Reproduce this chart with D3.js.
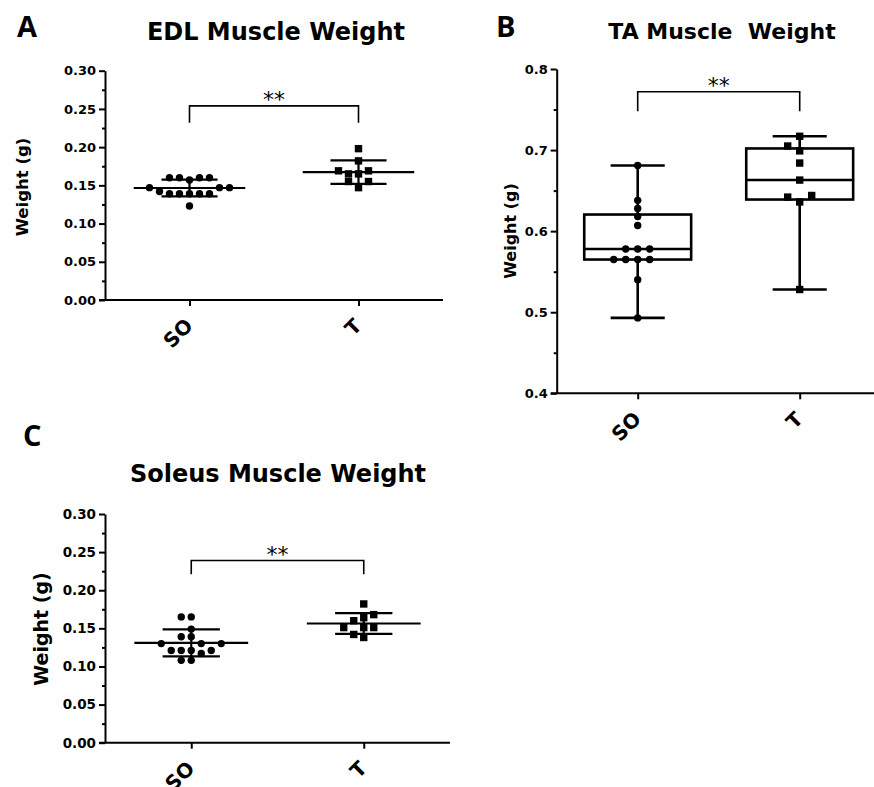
<!DOCTYPE html>
<html>
<head>
<script src="https://d3js.org/d3.v7.min.js"></script>
<style>
  body { margin: 0; background: #fff; }
  svg { display: block; font-family: "DejaVu Sans", sans-serif; }
  text { white-space: pre; }
</style>
</head>
<body>
<script>
// groups on the x axis
const groups = ["SO", "T"];

// EDL muscle weight (g)
const edlSO = [0.160, 0.160, 0.160, 0.160, 0.157, 0.147, 0.147, 0.147, 0.142, 0.139, 0.139, 0.139, 0.139, 0.139, 0.123];
const edlT = [0.198, 0.182, 0.169, 0.169, 0.165, 0.165, 0.155, 0.155, 0.147];

// TA muscle weight (g)
const taSO = [0.681, 0.638, 0.628, 0.618, 0.607, 0.578, 0.578, 0.578, 0.565, 0.565, 0.565, 0.565, 0.540, 0.493];
const taT = [0.717, 0.705, 0.699, 0.684, 0.663, 0.644, 0.642, 0.636, 0.528];

// Soleus muscle weight (g)
const solSO = [0.165, 0.165, 0.149, 0.139, 0.139, 0.130, 0.130, 0.130, 0.121, 0.121, 0.121, 0.121, 0.117, 0.108, 0.108];
const solT = [0.182, 0.168, 0.164, 0.160, 0.151, 0.151, 0.151, 0.142, 0.138];

// axis ticks
const smallTicks = [0, 0.05, 0.10, 0.15, 0.20, 0.25, 0.30];
const smallMinor = [0.025, 0.075, 0.125, 0.175, 0.225, 0.275];
const taTicks = [0.4, 0.5, 0.6, 0.7, 0.8];
const taMinor = [0.45, 0.55, 0.65, 0.75];

// significance brackets: [bar level, foot level]
const edlBracket = [0.254, 0.232];
const taBracket = [0.772, 0.748];
const solBracket = [0.239, 0.221];

const W = 874, H = 787;
const svg = d3.select("body").append("svg").attr("width", W).attr("height", H);

// place points so they don't overlap (rough beeswarm)
function swarm(values, y, step, size) {
  const placed = [];
  return values.slice().sort(d3.ascending).map(v => {
    const py = y(v);
    let off = 0;
    for (let i = 0; ; i++) {
      off = i === 0 ? 0 : (i % 2 ? -1 : 1) * Math.ceil(i / 2) * step;
      const hit = placed.some(p => Math.abs(p.py - py) < size && Math.abs(p.off - off) < step - 0.5);
      if (!hit) break;
    }
    placed.push({ py, off });
    return { v, py, off };
  });
}

// quartile like prism does it, (n+1)p
function quart(sorted, p) {
  const n = sorted.length, pos = (n + 1) * p, lo = Math.floor(pos), f = pos - lo;
  if (lo < 1) return sorted[0];
  if (lo >= n) return sorted[n - 1];
  return sorted[lo - 1] + f * (sorted[lo] - sorted[lo - 1]);
}

function panel(o) {
  const g = svg.append("g");
  const x = d3.scalePoint().domain(groups).range([o.x0, o.x1]).padding(0.5);
  const y = d3.scaleLinear().domain(o.domain).range([o.yBot, o.yTop]);
  const step = x.step();

  // letter + title
  g.append("text").attr("x", o.letter[0]).attr("y", o.letter[1])
    .attr("font-family", "'Open Sans', sans-serif").attr("font-weight", "bold")
    .attr("font-size", 29).text(o.tag);
  g.append("text").attr("x", o.title[0]).attr("y", o.title[1])
    .attr("text-anchor", "middle").attr("font-weight", "bold")
    .attr("font-size", o.titleSize).text(o.name);

  // y label
  g.append("text").attr("transform", `translate(${o.ylab[0]},${o.ylab[1]}) rotate(-90)`)
    .attr("text-anchor", "middle").attr("font-weight", "bold")
    .attr("font-size", o.ylabSize).text("Weight (g)");

  // y axis
  const ya = g.append("g").attr("transform", `translate(${o.x0},0)`)
    .call(d3.axisLeft(y).tickValues(o.ticks).tickFormat(d3.format(o.fmt)).tickSize(6).tickPadding(3).tickSizeOuter(0));
  ya.append("g").call(d3.axisLeft(y).tickValues(o.minor).tickFormat("").tickSize(3).tickSizeOuter(0))
    .select(".domain").remove();
  ya.selectAll("text").attr("font-family", "'DejaVu Sans', sans-serif")
    .attr("font-weight", "bold").attr("font-size", o.tickSize).attr("fill", "#000");
  ya.selectAll("path, line").attr("stroke", "#000").attr("stroke-width", 2);

  // x axis
  const xa = g.append("g").attr("transform", `translate(0,${o.yBot})`)
    .call(d3.axisBottom(x).tickSize(6).tickSizeOuter(0));
  xa.select(".domain").attr("d", `M${o.x0 - 6},0H${o.x1}`);
  xa.selectAll("path, line").attr("stroke", "#000").attr("stroke-width", 2);
  xa.selectAll("text").attr("y", 0).attr("dy", 0).attr("x", 0)
    .attr("transform", "translate(4,27) rotate(-45)")
    .attr("text-anchor", "end").attr("font-family", "'DejaVu Sans', sans-serif")
    .attr("font-weight", "bold").attr("font-size", 20).attr("fill", "#000");

  // bracket
  const bx0 = x(groups[0]), bx1 = x(groups[1]);
  g.append("path").attr("fill", "none").attr("stroke", "#000").attr("stroke-width", 1.6)
    .attr("d", `M${bx0},${y(o.bracket[1])}V${y(o.bracket[0])}H${bx1}V${y(o.bracket[1])}`);
  g.append("text").attr("x", (bx0 + bx1) / 2).attr("y", y(o.bracket[0]) + 1.5)
    .attr("text-anchor", "middle").attr("font-size", 22).text("**");

  o.series.forEach((vals, i) => {
    const cx = x(groups[i]);
    const pts = swarm(vals, y, o.swarmStep, 7.5);
    if (o.box) {
      const s = vals.slice().sort(d3.ascending);
      const q1 = quart(s, 0.25), med = quart(s, 0.5), q3 = quart(s, 0.75);
      const bw = step * 0.33, cw = step * 0.167;
      const bg = g.append("g").attr("stroke", "#000").attr("stroke-width", 2.6).attr("fill", "none");
      bg.append("line").attr("x1", cx).attr("x2", cx).attr("y1", y(s[0])).attr("y2", y(q1));
      bg.append("line").attr("x1", cx).attr("x2", cx).attr("y1", y(q3)).attr("y2", y(s[s.length - 1]));
      bg.append("line").attr("x1", cx - cw).attr("x2", cx + cw).attr("y1", y(s[0])).attr("y2", y(s[0]));
      bg.append("line").attr("x1", cx - cw).attr("x2", cx + cw)
        .attr("y1", y(s[s.length - 1])).attr("y2", y(s[s.length - 1]));
      bg.append("rect").attr("x", cx - bw).attr("width", 2 * bw)
        .attr("y", y(q3)).attr("height", y(q1) - y(q3));
      bg.append("line").attr("x1", cx - bw).attr("x2", cx + bw).attr("y1", y(med)).attr("y2", y(med));
    } else {
      const m = d3.mean(vals), sd = d3.deviation(vals);
      const lg = g.append("g").attr("stroke", "#000").attr("stroke-width", 2.2);
      lg.append("line").attr("x1", cx - step * 0.33).attr("x2", cx + step * 0.33).attr("y1", y(m)).attr("y2", y(m));
      [m - sd, m + sd].forEach(v => {
        lg.append("line").attr("x1", cx - step * 0.166).attr("x2", cx + step * 0.166).attr("y1", y(v)).attr("y2", y(v));
      });
      lg.append("line").attr("x1", cx).attr("x2", cx).attr("y1", y(m - sd)).attr("y2", y(m + sd));
    }
    if (i === 0) {
      g.selectAll(null).data(pts).join("circle")
        .attr("cx", d => cx + d.off).attr("cy", d => d.py).attr("r", 3.7).attr("fill", "#000");
    } else {
      g.selectAll(null).data(pts).join("rect")
        .attr("x", d => cx + d.off - 3.7).attr("y", d => d.py - 3.7)
        .attr("width", 7.4).attr("height", 7.4).attr("fill", "#000");
    }
  });
}

panel({
  tag: "A", name: "EDL Muscle Weight", letter: [17, 37], title: [276, 40], titleSize: 24,
  ylab: [28, 187], ylabSize: 16.5,
  x0: 105, x1: 443, yTop: 70.7, yBot: 300, domain: [0, 0.3],
  ticks: smallTicks, minor: smallMinor, fmt: ".2f", tickSize: 13,
  bracket: edlBracket, series: [edlSO, edlT], swarmStep: 10, box: false
});

panel({
  tag: "B", name: "TA Muscle  Weight", letter: [496, 37], title: [722, 39], titleSize: 22,
  ylab: [516, 231], ylabSize: 16,
  x0: 556.7, x1: 880.7, yTop: 69, yBot: 393.3, domain: [0.4, 0.8],
  ticks: taTicks, minor: taMinor, fmt: ".1f", tickSize: 13,
  bracket: taBracket, series: [taSO, taT], swarmStep: 12, box: true
});

panel({
  tag: "C", name: "Soleus Muscle Weight", letter: [23, 446], title: [278, 482], titleSize: 24,
  ylab: [48, 629], ylabSize: 19,
  x0: 105, x1: 450, yTop: 514, yBot: 742.7, domain: [0, 0.3],
  ticks: smallTicks, minor: smallMinor, fmt: ".2f", tickSize: 13.5,
  bracket: solBracket, series: [solSO, solT], swarmStep: 10, box: false
});
</script>
</body>
</html>
